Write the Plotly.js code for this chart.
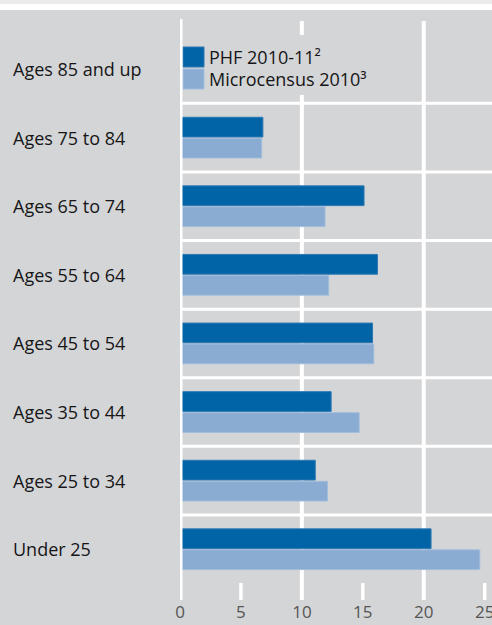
<!DOCTYPE html>
<html>
<head>
<meta charset="utf-8">
<script src="https://cdn.plot.ly/plotly-3.0.1.min.js"></script>
<style>html,body{margin:0;padding:0;background:#d4d5d7;}#chart{width:492px;height:625px;}</style>
</head>
<body>
<div id="chart"></div>
<script>
// Data (top to bottom as in the picture)
const categories = ["Ages 85 and up", "Ages 75 to 84", "Ages 65 to 74", "Ages 55 to 64",
                    "Ages 45 to 54", "Ages 35 to 44", "Ages 25 to 34", "Under 25"];
const phfValues = [null, 6.8, 15.1, 16.2, 15.8, 12.4, 11.1, 20.6];
const microcensusValues = [null, 6.7, 11.9, 12.2, 15.9, 14.7, 12.1, 24.6];
const seriesNames = ["PHF 2010-11\u00B2", "Microcensus 2010\u00B3"];
const xTicks = [0, 5, 10, 15, 20, 25];

const darkBlue = "#0064a7";
const lightBlue = "#8aabd2";
const bg = "#d4d5d7";
const font = "'Open Sans', 'Noto Sans', sans-serif";

// plot geometry helpers (margins)
const W = 492, H = 625, ML = 180, MR = 0, MT = 21, MB = 25;
const PW = W - ML - MR, PH = H - MT - MB;
const px2paperX = p => (p - ML) / PW;
const px2paperY = p => 1 - (p - MT) / PH;

const order = categories.slice().reverse();

const traces = [
  { type: "bar", orientation: "h", name: seriesNames[1], y: categories, x: microcensusValues,
    marker: { color: lightBlue, line: { color: "#a2bddc", width: 1 } }, hoverinfo: "x+y" },
  { type: "bar", orientation: "h", name: seriesNames[0], y: categories, x: phfValues,
    marker: { color: darkBlue, line: { color: "#2f78b3", width: 1 } }, hoverinfo: "x+y" }
];

const shapes = [];
// top strips
shapes.push({ type: "rect", xref: "paper", yref: "paper", x0: px2paperX(0), x1: 1, y0: px2paperY(4), y1: px2paperY(0),
  fillcolor: "#ebebed", line: { width: 0 }, layer: "below" });
shapes.push({ type: "rect", xref: "paper", yref: "paper", x0: px2paperX(0), x1: 1, y0: px2paperY(10), y1: px2paperY(4),
  fillcolor: "#ffffff", line: { width: 0 }, layer: "below" });
// major gridlines (10, 20) full height, minor ticks (5, 15, 25) at the bottom
xTicks.forEach(v => {
  if (v === 0) return;
  if (v % 10 === 0) {
    shapes.push({ type: "line", xref: "x", yref: "paper", x0: v, x1: v, y0: 0, y1: 1,
      line: { color: "#ffffff", width: 4 }, layer: "below" });
  } else {
    shapes.push({ type: "line", xref: "x", yref: "paper", x0: v, x1: v, y0: 0, y1: px2paperY(583),
      line: { color: "#ffffff", width: 3.5 }, layer: "below" });
  }
});
// horizontal separators between categories
for (let k = 0; k < categories.length - 1; k++) {
  shapes.push({ type: "line", xref: "paper", yref: "y", x0: px2paperX(182), x1: 1, y0: k + 0.5, y1: k + 0.5,
    line: { color: "#ffffff", width: 3 }, layer: "below" });
}
// legend background (hides gridline behind it)
shapes.push({ type: "rect", xref: "paper", yref: "paper", x0: px2paperX(183), x1: px2paperX(395),
  y0: px2paperY(95), y1: px2paperY(35), fillcolor: bg, line: { width: 0 }, layer: "below" });
// legend swatches
shapes.push({ type: "rect", xref: "paper", yref: "paper", x0: px2paperX(183), x1: px2paperX(204),
  y0: px2paperY(67), y1: px2paperY(47), fillcolor: darkBlue, line: { color: "#2f78b3", width: 1 }, layer: "above" });
shapes.push({ type: "rect", xref: "paper", yref: "paper", x0: px2paperX(183), x1: px2paperX(204),
  y0: px2paperY(89), y1: px2paperY(69), fillcolor: lightBlue, line: { color: "#a2bddc", width: 1 }, layer: "above" });
// zero line (on top)
shapes.push({ type: "line", xref: "x", yref: "paper", x0: 0, x1: 0, y0: 0, y1: px2paperY(19),
  line: { color: "#ffffff", width: 5 }, layer: "above" });

const txtFont = { family: font, size: 18, color: "#161616" };
const annotations = categories.map(c => ({
  xref: "paper", yref: "y", x: px2paperX(11), y: c, xanchor: "left", yanchor: "middle",
  text: c, showarrow: false, font: txtFont
}));
annotations.push({ xref: "paper", yref: "paper", x: px2paperX(207), y: px2paperY(57), xanchor: "left", yanchor: "middle",
  text: seriesNames[0], showarrow: false, font: txtFont });
annotations.push({ xref: "paper", yref: "paper", x: px2paperX(207), y: px2paperY(79), xanchor: "left", yanchor: "middle",
  text: seriesNames[1], showarrow: false, font: txtFont });

const layout = {
  width: W, height: H,
  margin: { l: ML, r: MR, t: MT, b: MB, pad: 0 },
  paper_bgcolor: bg, plot_bgcolor: bg,
  barmode: "group", bargap: 0.388, bargroupgap: 0.06,
  showlegend: false,
  font: { family: font },
  xaxis: {
    range: [0, 25.6], tickvals: xTicks, ticktext: xTicks.map(String),
    showgrid: false, zeroline: false, showline: false, ticks: "",
    ticklabeloverflow: "allow",
    tickfont: { family: font, size: 17, color: "#555555" }, fixedrange: true
  },
  yaxis: {
    type: "category", categoryorder: "array", categoryarray: order,
    range: [-0.74, 7.7], showticklabels: false, showgrid: false, zeroline: false, showline: false,
    ticks: "", fixedrange: true
  },
  shapes: shapes,
  annotations: annotations
};

Plotly.newPlot("chart", traces, layout, { displayModeBar: false, staticPlot: true });
</script>
</body>
</html>
